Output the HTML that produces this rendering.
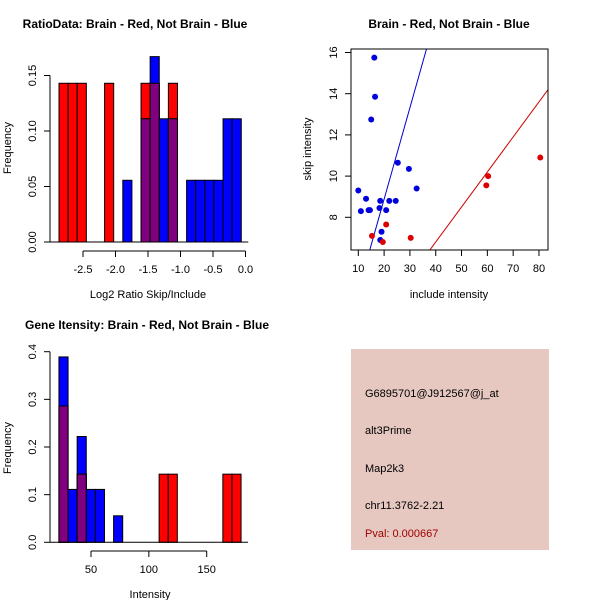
<!DOCTYPE html>
<html><head><meta charset="utf-8"><style>
html,body{margin:0;padding:0;background:#fff;}
svg{display:block;font-family:"Liberation Sans",sans-serif;}
</style></head><body>
<svg id="chart" width="600" height="600" viewBox="0 0 600 600" xmlns="http://www.w3.org/2000/svg">
<rect x="0" y="0" width="600" height="600" fill="#fff"/>
<text x="135" y="28" font-size="12" font-weight="bold" text-anchor="middle">RatioData: Brain - Red, Not Brain - Blue</text>
<text x="148" y="298" font-size="11" text-anchor="middle">Log2 Ratio Skip/Include</text>
<text transform="translate(11,148) rotate(-90)" font-size="11" text-anchor="middle">Frequency</text>
<text x="449" y="28" font-size="12" font-weight="bold" text-anchor="middle">Brain - Red, Not Brain - Blue</text>
<text x="449" y="298" font-size="11" text-anchor="middle">include intensity</text>
<text transform="translate(311,149) rotate(-90)" font-size="11" text-anchor="middle">skip intensity</text>
<text x="147" y="329" font-size="12" font-weight="bold" text-anchor="middle">Gene Itensity: Brain - Red, Not Brain - Blue</text>
<text x="150" y="598" font-size="11" text-anchor="middle">Intensity</text>
<text transform="translate(11,448) rotate(-90)" font-size="11" text-anchor="middle">Frequency</text>
<g>
<rect x="351" y="349" width="198" height="201" fill="#e6c8c1"/>
<text x="365" y="397" font-size="11">G6895701@J912567@j_at</text>
<text x="365" y="434" font-size="11">alt3Prime</text>
<text x="365" y="472" font-size="11">Map2k3</text>
<text x="365" y="509" font-size="11">chr11.3762-2.21</text>
<text x="365" y="537" font-size="11" fill="#a00000">Pval: 0.000667</text>
</g>
</svg>
<script>
// ratio histogram data
const ratioBinStart = -2.869;
const ratioBinWidth = 0.1402;
const ratioRed  = [0.143,0.143,0.143,0,0,0.143,0,0,0,0.143,0.143,0,0.143,0,0,0,0,0,0,0];
const ratioBlue = [0,0,0,0,0,0,0,0.0556,0,0.111,0.167,0.111,0.111,0,0.0556,0.0556,0.0556,0.0556,0.111,0.111];
const ratioXTicks = [-2.5,-2.0,-1.5,-1.0,-0.5,0.0];
const ratioYTicks = [0.00,0.05,0.10,0.15];
// scatter data
const blueX = [10,11,13,14,14.5,15,16.2,16.5,18.2,18.5,18.5,19,20.8,22,24.5,25.3,29.6,32.6];
const blueY = [9.3,8.3,8.9,8.35,8.35,12.75,15.75,13.85,8.45,8.8,6.9,7.3,8.35,8.8,8.8,10.65,10.35,9.4];
const redX = [15.3,19.5,20.8,30.3,59.6,60.3,80.5];
const redY = [7.1,6.8,7.65,7.0,9.55,10.0,10.9];
const blueSlope = 0.444;
const redSlope = 0.170;
const scatterXTicks = [10,20,30,40,50,60,70,80];
const scatterYTicks = [8,10,12,14,16];
// intensity histogram data
const intBinStart = 22.3;
const intBinWidth = 7.87;
const intRed  = [0.286,0,0.143,0,0,0,0,0,0,0,0,0.143,0.143,0,0,0,0,0,0.143,0.143];
const intBlue = [0.389,0.111,0.222,0.111,0.111,0,0.0556,0,0,0,0,0,0,0,0,0,0,0,0,0];
const intXTicks = [50,100,150];
const intYTicks = [0.0,0.1,0.2,0.3,0.4];

const svg = document.getElementById('chart');
const NS = 'http://www.w3.org/2000/svg';
function mk(tag, attrs){const e=document.createElementNS(NS,tag);for(const k in attrs)e.setAttribute(k,attrs[k]);svg.appendChild(e);return e;}
function fmt(v,d){return v.toFixed(d);}

function hist(opts){
  const {sx, sy, start, width, red, blue, xTicks, yTicks, xAxisY, yAxisX, dx, dy, name} = opts;
  for(let i=0;i<red.length;i++){
    const x0=sx(start+i*width), x1=sx(start+(i+1)*width);
    const r=red[i], b=blue[i];
    if(r>0){const e=mk('rect',{x:x0,y:sy(r),width:x1-x0,height:sy(0)-sy(r),fill:'#ff0000',stroke:'#000','stroke-width':1});
      
      }
    if(b>0){const e=mk('rect',{x:x0,y:sy(b),width:x1-x0,height:sy(0)-sy(b),fill:'#0000ff',stroke:'#000','stroke-width':1});
      
      }
    const m=Math.min(r,b);
    if(m>0){const e=mk('rect',{x:x0,y:sy(m),width:x1-x0,height:sy(0)-sy(m),fill:'#800080',stroke:'#000','stroke-width':1});
      
      }
  }
  mk('line',{x1:yAxisX,y1:sy(0),x2:sx(start+red.length*width)+7,y2:sy(0),stroke:'#000'});
  const xa=mk('line',{x1:sx(xTicks[0]),y1:xAxisY,x2:sx(xTicks[xTicks.length-1]),y2:xAxisY,stroke:'#000'});
  
  
  xTicks.forEach(t=>{mk('line',{x1:sx(t),y1:xAxisY,x2:sx(t),y2:xAxisY+6,stroke:'#000'});
    const e=mk('text',{x:sx(t),y:xAxisY+22,'font-size':11,'text-anchor':'middle'});e.textContent=fmt(t,dx);
    
    });
  const ya=mk('line',{x1:yAxisX,y1:sy(yTicks[0]),x2:yAxisX,y2:sy(yTicks[yTicks.length-1]),stroke:'#000'});
  
  
  yTicks.forEach(t=>{mk('line',{x1:yAxisX,y1:sy(t),x2:yAxisX-6,y2:sy(t),stroke:'#000'});
    const e=mk('text',{transform:`translate(${yAxisX-14},${sy(t)}) rotate(-90)`,'font-size':11,'text-anchor':'middle'});e.textContent=fmt(t,dy);
    
    });
}

hist({name:'ratio-hist',sx:v=>83+(v+2.5)*65,sy:v=>242-v*1110,start:ratioBinStart,width:ratioBinWidth,
  red:ratioRed,blue:ratioBlue,xTicks:ratioXTicks,yTicks:ratioYTicks,xAxisY:251,yAxisX:50,dx:1,dy:2});
hist({name:'intensity-hist',sx:v=>91+(v-50)*1.157,sy:v=>542.3-v*476.5,start:intBinStart,width:intBinWidth,
  red:intRed,blue:intBlue,xTicks:intXTicks,yTicks:intYTicks,xAxisY:551,yAxisX:50,dx:0,dy:1});

// scatter
const scx=v=>358.3+(v-10)*2.581, scy=v=>217.3-(v-8)*20.6;
const L=351, R=548, T=49, B=250;
const clip=mk('clipPath',{id:'sc'}); const cr=document.createElementNS(NS,'rect');
cr.setAttribute('x',L);cr.setAttribute('y',T);cr.setAttribute('width',R-L);cr.setAttribute('height',B-T);clip.appendChild(cr);
const xMin=(L-358.3)/2.581+10, xMax=(R-358.3)/2.581+10;
const bl=mk('line',{x1:scx(xMin),y1:scy(blueSlope*xMin),x2:scx(xMax),y2:scy(blueSlope*xMax),stroke:'#0000cc','clip-path':'url(#sc)'});


const rl=mk('line',{x1:scx(xMin),y1:scy(redSlope*xMin),x2:scx(xMax),y2:scy(redSlope*xMax),stroke:'#cc0000','clip-path':'url(#sc)'});


blueX.forEach((x,i)=>{const c=mk('circle',{cx:scx(x),cy:scy(blueY[i]),r:3,fill:'#0000dd'});
  
  });
redX.forEach((x,i)=>{const c=mk('circle',{cx:scx(x),cy:scy(redY[i]),r:3,fill:'#dd0000'});
  
  });
const box=mk('rect',{x:L,y:T,width:R-L,height:B-T,fill:'none',stroke:'#000'});


scatterXTicks.forEach(t=>{mk('line',{x1:scx(t),y1:B,x2:scx(t),y2:B+6,stroke:'#000'});
  const e=mk('text',{x:scx(t),y:B+22,'font-size':11,'text-anchor':'middle'});e.textContent=t;
  
  });
scatterYTicks.forEach(t=>{mk('line',{x1:L,y1:scy(t),x2:L-6,y2:scy(t),stroke:'#000'});
  const e=mk('text',{transform:`translate(${L-14},${scy(t)}) rotate(-90)`,'font-size':11,'text-anchor':'middle'});e.textContent=t;
  
  });
</script>
</body></html>
